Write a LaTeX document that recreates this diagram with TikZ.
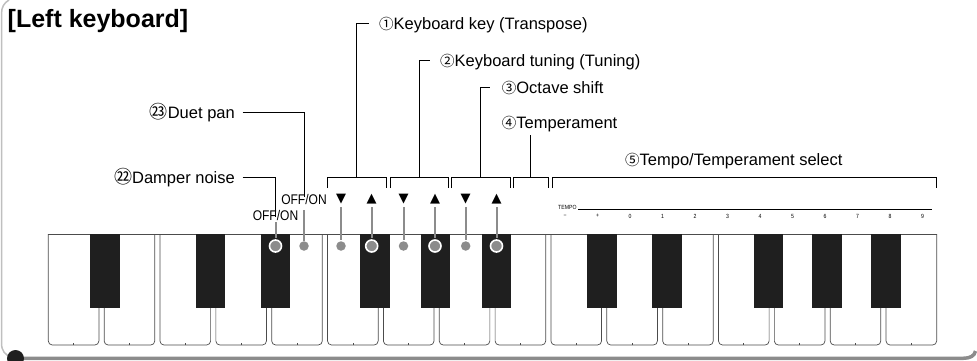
\documentclass[tikz,border=0pt]{standalone}
\usepackage{fontspec}
\setmainfont{Liberation Sans}
\newfontfamily\cjkfont{Noto Sans CJK JP}
\newfontfamily\symfont{DejaVu Sans}
\newfontfamily\narrowfont{Liberation Sans}[FakeStretch=0.86]
\newcommand{\cnum}[1]{{\cjkfont\fontsize{14.5}{14.5}\selectfont #1}}
\newcommand{\cnumbig}[1]{{\cjkfont\fontsize{18}{18}\selectfont #1}}
\tikzset{
  lbltext/.style={font=\fontsize{16.5}{18}\selectfont, inner sep=0pt, text height=12pt, text depth=0pt},
  leader/.style={draw=black, line width=0.9pt},
  stemline/.style={draw=black!45, line width=2pt},
  onoff/.style={font=\narrowfont\fontsize{14}{14}\selectfont, inner sep=0pt, text height=10pt, text depth=0pt},
  whitekey/.style={draw=black!70, line width=0.7pt, fill=white},
  blackkey/.style={fill=black!88},
  whitedot/.style={circle, fill=black!45, inner sep=0pt, minimum size=9.5pt},
  bigdot/.style={circle, fill=black!45, draw=white, line width=1.6pt, inner sep=0pt, minimum size=12pt},
  arrowsym/.style={font=\symfont\fontsize{13}{13}\selectfont, inner sep=0pt},
  tempo/.style={font=\narrowfont\fontsize{6}{6.5}\selectfont, inner sep=0pt}
}
\begin{document}
\begin{tikzpicture}[x=1pt, y=-1pt]
\useasboundingbox (0,0) rectangle (977,360);
% frame
\draw[black!25, line width=1.5pt] (9,0) .. controls (4,3) and (1.5,7) .. (1.5,14) -- (1.5,343) .. controls (1.5,351) and (5,355) .. (12,357.5);
\draw[black!45, line width=3.5pt] (12,358.3) -- (963,358.3) .. controls (970,358.3) and (974.5,356) .. (975.5,351);
\fill[black!88] (15.5,358.5) circle (8.5);
\node[font=\bfseries\fontsize{25}{28}\selectfont, anchor=base west, inner sep=0pt] (title) at (7.5,27) {[Left keyboard]};

% keyboard
\foreach \i in {0,...,15} {
  \pgfmathsetmacro\x{48.3+\i*55.85}
  \draw[whitekey, rounded corners=4pt] (\x,234) -- (\x,345) -- (\x+50.6,345) -- (\x+50.6,234);
  \draw[whitekey] (\x+25.3,345) -- ++(0,-2.5);
}
\draw[whitekey] (48.3,234) -- (936.9,234);
\foreach \i/\o in {1/3.5, 3/-2.5, 4/6.5, 6/-6, 7/-1, 8/4, 10/-2, 11/7, 13/-3, 14/-0.5, 15/2.5}
  \fill[blackkey] ({48.3+(\i-1)*55.85+53.2+\o-14.75},234) rectangle ++(29.5,74);

% tempo scale
\node[tempo, anchor=base west] (tp) at (558,209.3) {TEMPO};
\coordinate (tpend) at (931.7,209.3);
\draw[line width=0.6pt] ([xshift=1.5pt]tp.base east) -- (tpend);
\foreach \t [count=\n from 0] in {−,+,0,1,2,3,4,5,6,7,8,9}
  \node[tempo] at ({565+\n*32.5},216) {\t};

% labels
\node[lbltext, anchor=west] (k1) at (379,23.3) {\cnum{①}Keyboard key (Transpose)};
\node[lbltext, anchor=west] (k2) at (440,60) {\cnum{②}Keyboard tuning (Tuning)};
\node[lbltext, anchor=west] (k3) at (501.7,87.3) {\cnum{③}Octave shift};
\node[lbltext, anchor=west] (k4) at (501.7,122.3) {\cnum{④}Temperament};
\node[lbltext, anchor=west] (k5) at (625,159) {\cnum{⑤}Tempo/Temperament select};
\node[lbltext, anchor=east] (k23) at (235,112.3) {\cnumbig{㉓}Duet pan};
\node[lbltext, anchor=east] (k22) at (235,177.7) {\cnumbig{㉒}Damper noise};
\node[onoff] (o23) at (304,199.2) {OFF/ON};
\node[onoff] (o22) at (275.5,215.3) {OFF/ON};

% brackets
\foreach \a/\b/\n in {327.7/386/1, 390/448.3/2, 451.7/510/3, 513.3/548.3/4, 552.7/936/5} {
  \draw[leader] (\a,188) |- (\b,177.3) -- (\b,188);
  \coordinate (b\n) at ({(\a+\b)/2},177.3);
}
\draw[leader] (b1) |- ([xshift=-10pt]k1.west);
\draw[leader] (b2) |- ([xshift=-10pt]k2.west);
\draw[leader] (b3) |- ([xshift=-11.7pt]k3.west);
\draw[leader, shorten >=6.5pt] (b4) -- (b4 |- k4.south);
\draw[leader] ([xshift=7.7pt]k23.east) -| ([yshift=-2.5pt]o23.north);
\draw[leader] ([xshift=7.7pt]k22.east) -| ([yshift=-7.3pt]o22.north);

% buttons
\node[arrowsym] (t1) at (341,199) {▼};
\node[arrowsym] (t2) at (371.7,199) {▲};
\node[arrowsym] (t3) at (403.5,199) {▼};
\node[arrowsym] (t4) at (435,199) {▲};
\node[arrowsym] (t5) at (465.7,199) {▼};
\node[arrowsym] (t6) at (496.5,199) {▲};
\node[bigdot] (c22) at (275.5,246) {};
\node[whitedot] (c23) at (304,246) {};
\node[whitedot] (c1) at (341,246) {};
\node[bigdot] (c2) at (371.7,246) {};
\node[whitedot] (c3) at (403.5,246) {};
\node[bigdot] (c4) at (435,246) {};
\node[whitedot] (c5) at (465.7,246) {};
\node[bigdot] (c6) at (496.5,246) {};
\draw[stemline, shorten <=1.5pt, shorten >=0.8pt] (o22.south) -- (c22);
\draw[stemline, shorten <=6pt] (o23.south) -- (c23);
\foreach \n in {1,...,6}
  \draw[stemline, shorten <=3pt, shorten >=0.8pt] (t\n.south) -- (c\n);
\end{tikzpicture}
\end{document}
